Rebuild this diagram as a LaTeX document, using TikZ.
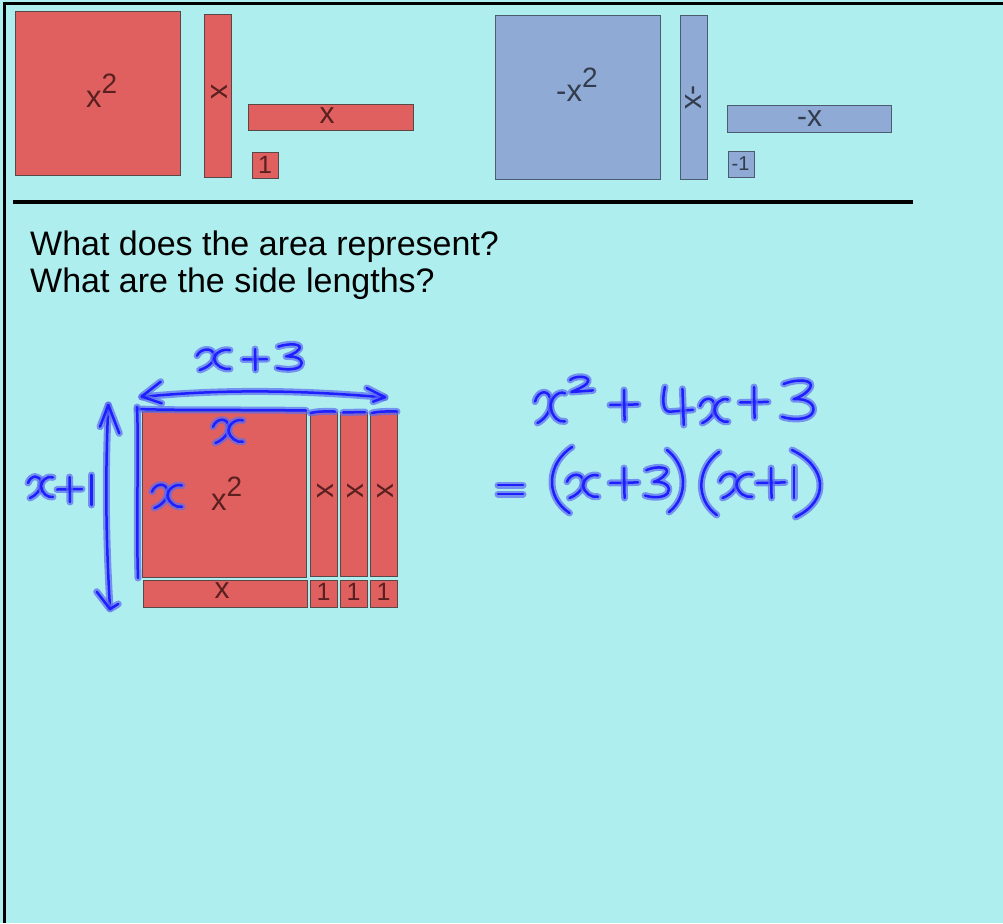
\documentclass[tikz,border=0pt]{standalone}
\usepackage{fontspec}
\setmainfont{Liberation Sans}
\newcommand\tfs[1]{\fontsize{#1}{#1}\selectfont}
\definecolor{bgc}{HTML}{AFEEEE}
\definecolor{redtile}{HTML}{E06060}
\definecolor{bluetile}{HTML}{8FAAD4}
\definecolor{redtext}{HTML}{5A2020}
\definecolor{bluetext}{HTML}{323C4C}
\definecolor{redEdge}{HTML}{584848}
\definecolor{blueEdge}{HTML}{4C5C70}
\definecolor{penblue}{HTML}{1E1EFF}
\definecolor{penglow}{HTML}{5A6CF0}
\tikzset{
  rtile/.style={draw=redEdge, fill=redtile, line width=1pt, inner sep=0pt, anchor=north west},
  btile/.style={draw=blueEdge, fill=bluetile, line width=1pt, inner sep=0pt, anchor=north west},
  rlab/.style={text=redtext, inner sep=0pt},
  blab/.style={text=bluetext, inner sep=0pt},
  ink/.style={draw=penblue, line width=2.5pt, line cap=round, line join=round,
    preaction={draw=penglow, line width=7pt, opacity=0.7, line cap=round, line join=round}},
  hx/.pic={
    \draw[ink] (0.0,0.35) .. controls (0.1,0.0) and (0.5,-0.05) .. (0.52,0.35) .. controls (0.54,0.65) and (0.3,0.9) .. (0.08,1.0);
    \draw[ink] (1.0,0.1) .. controls (0.75,0.0) and (0.5,0.3) .. (0.52,0.5) .. controls (0.55,0.8) and (0.8,1.0) .. (1.0,0.95);
  },
  hplus/.pic={
    \draw[ink] (0,0.5) -- (1,0.48);
    \draw[ink] (0.5,0) -- (0.52,1);
  },
  hthree/.pic={
    \draw[ink] (0.05,0.1) .. controls (0.5,-0.05) and (1.0,0.0) .. (0.85,0.2) .. controls (0.7,0.38) and (0.45,0.45) .. (0.35,0.48) .. controls (0.9,0.45) and (1.05,0.7) .. (0.9,0.85) .. controls (0.75,1.0) and (0.3,1.0) .. (0.0,0.92);
  },
  hone/.pic={
    \draw[ink] (0.5,0) -- (0.5,1);
  },
  hfour/.pic={
    \draw[ink] (0.15,0) .. controls (0.05,0.4) and (0.1,0.65) .. (0.3,0.65) -- (1,0.6);
    \draw[ink] (0.68,0.05) -- (0.72,1);
  },
  htwo/.pic={
    \draw[ink] (0.05,0.25) .. controls (0.2,0.0) and (0.8,-0.05) .. (0.8,0.3) .. controls (0.8,0.55) and (0.4,0.8) .. (0.1,1.0) -- (1.0,0.9);
  },
  hlparen/.pic={
    \draw[ink] (1,0) .. controls (0.0,0.25) and (-0.1,0.75) .. (0.9,1);
  },
  hrparen/.pic={
    \draw[ink] (0,0) .. controls (1.0,0.25) and (1.1,0.75) .. (0.1,1);
  },
  heq/.pic={
    \draw[ink] (0,0) -- (1,0);
    \draw[ink] (0,1) -- (1,1);
  },
}
\begin{document}
\begin{tikzpicture}[x=1pt,y=-1pt]
\useasboundingbox (0,0) rectangle (1003,923);
\fill[bgc] (0,0) rectangle (1003,923);
% frame
\draw[line width=3pt, black] (4.5,923) -- (4.5,4) -- (1003,4);
\draw[line width=3.5pt, black] (13,202) -- (913,202);

% top red tiles
\node[rtile, minimum width=165pt, minimum height=164pt] (sq) at (15,11) {};
\node[rtile, minimum width=27pt, minimum height=163pt] (vx) at (204,14) {};
\node[rtile, minimum width=165pt, minimum height=26pt] (hxt) at (248,104) {};
\node[rtile, minimum width=26pt, minimum height=26pt] (one) at (252,152) {};
\node[rlab, anchor=base west] (sqL) at (86,108) {\tfs{31}x\raisebox{14pt}{\tfs{28}2}};
\node[rlab, rotate=-90] (vxL) at (219.5,92) {\tfs{30}x};
\node[rlab, anchor=base] (hxtL) at (327,124) {\tfs{30}x};
\node[rlab, anchor=base] (oneL) at (265,173) {\tfs{25}1};

% top blue tiles
\node[btile, minimum width=165pt, minimum height=164pt] (nsq) at (495,15) {};
\node[btile, minimum width=27pt, minimum height=164pt] (nvx) at (680,15) {};
\node[btile, minimum width=164pt, minimum height=27pt] (nhx) at (727,105) {};
\node[btile, minimum width=26pt, minimum height=26pt] (none) at (728,151) {};
\node[blab, anchor=base west] (nsqL) at (556,102) {\tfs{31}-x\raisebox{14pt}{\tfs{28}2}};
\node[blab, rotate=-90] (nvxL) at (693.5,97.5) {\tfs{30}-x};
\node[blab, anchor=base] (nhxL) at (809.5,127) {\tfs{30}-x};
\node[blab, anchor=base] (noneL) at (740.5,170) {\tfs{20}-1};

% questions
\node[inner sep=0pt, anchor=base west] (q1) at (30,255) {\tfs{34}What does the area represent?};
\node[inner sep=0pt, anchor=base west] (q2) at (30,292) {\tfs{34}What are the side lengths?};

% lower arrangement
\node[rtile, minimum width=164pt, minimum height=166pt] (big) at (142,410.5) {};
\node[rtile, minimum width=27pt, minimum height=164pt] (v1) at (310,411.5) {};
\node[rtile, minimum width=27pt, minimum height=164pt] (v2) at (340,411.5) {};
\node[rtile, minimum width=27pt, minimum height=164pt] (v3) at (370,411.5) {};
\node[rtile, minimum width=164pt, minimum height=27pt] (bx) at (142.5,579.5) {};
\node[rtile, minimum width=27pt, minimum height=27pt] (b1) at (310,579.5) {};
\node[rtile, minimum width=27pt, minimum height=27pt] (b2) at (340,579.5) {};
\node[rtile, minimum width=27pt, minimum height=27pt] (b3) at (370,579.5) {};
\node[rlab, anchor=base west] (bigL) at (211,510) {\tfs{31}x\raisebox{14pt}{\tfs{28}2}};
\node[rlab, rotate=-90] (v1L) at (325,491) {\tfs{30}x};
\node[rlab, rotate=-90] (v2L) at (355,491) {\tfs{30}x};
\node[rlab, rotate=-90] (v3L) at (385,491) {\tfs{30}x};
\node[rlab, anchor=base] (bxL) at (222,598) {\tfs{30}x};
\node[rlab, anchor=base] (b1L) at (323.5,600) {\tfs{25}1};
\node[rlab, anchor=base] (b2L) at (353.5,600) {\tfs{25}1};
\node[rlab, anchor=base] (b3L) at (383.5,600) {\tfs{25}1};

% handwriting: edges of tile
\draw[ink] (137,409) .. controls (180,410.5) and (240,409.5) .. (306,410.5);
\draw[ink] (310.5,413) .. controls (318,411) and (326,411.5) .. (335,411.5);
\draw[ink] (343,412.5) -- (365,412);
\draw[ink] (372,413) .. controls (380,411) and (390,411.5) .. (397,411.5);
\draw[ink] (137,407) .. controls (139,450) and (136,520) .. (138,578);
% horizontal double arrow
\draw[ink] (141.5,397) .. controls (220,389) and (300,390) .. (385,397.5);
\draw[ink] (160.7,381.7) -- (141.7,396.5) -- (161.7,403.3);
\draw[ink] (366.7,388) -- (385,397.2) -- (373,401.7);
% vertical double arrow
\draw[ink] (108.3,405) .. controls (105,480) and (106,540) .. (110,608);
\draw[ink] (100,426.7) -- (108.3,405) -- (119.3,433.3);
\draw[ink] (96.7,591.7) -- (110,609) -- (118.3,604);

% x+3 label
\pic[xscale=33,yscale=22] at (197,348) {hx};
\pic[xscale=24,yscale=21] at (243,349) {hplus};
\pic[xscale=26,yscale=26] at (277,344) {hthree};
% x+1 label
\pic[xscale=25,yscale=23] at (28,475) {hx};
\pic[xscale=25,yscale=25] at (57,477) {hplus};
\pic[xscale=7,yscale=30] at (88,475) {hone};
% x on tile
\pic[xscale=30,yscale=25] at (213,418) {hx};
\pic[xscale=30,yscale=25] at (152,483) {hx};

% x^2 + 4x + 3
\pic[xscale=30,yscale=33] at (535,390) {hx};
\pic[xscale=24,yscale=16] at (569,376) {htwo};
\pic[xscale=28,yscale=30] at (610,390) {hplus};
\pic[xscale=33,yscale=38] at (660,387) {hfour};
\pic[xscale=28,yscale=26] at (700,397) {hx};
\pic[xscale=28,yscale=31] at (740,387) {hplus};
\pic[xscale=33,yscale=40] at (782,380) {hthree};
% = (x+3)(x+1)
\pic[xscale=25,yscale=9] at (498,485) {heq};
\pic[xscale=25,yscale=66] at (547,447) {hlparen};
\pic[xscale=31,yscale=25] at (567,473) {hx};
\pic[xscale=28,yscale=30] at (610,468) {hplus};
\pic[xscale=25,yscale=31] at (645,467) {hthree};
\pic[xscale=20,yscale=62] at (667,450) {hrparen};
\pic[xscale=22,yscale=63] at (697,452) {hlparen};
\pic[xscale=32,yscale=26] at (720,472) {hx};
\pic[xscale=28,yscale=30] at (757,468) {hplus};
\pic[xscale=8,yscale=31] at (790,467) {hone};
\pic[xscale=35,yscale=67] at (792,450) {hrparen};
\end{tikzpicture}
\end{document}
